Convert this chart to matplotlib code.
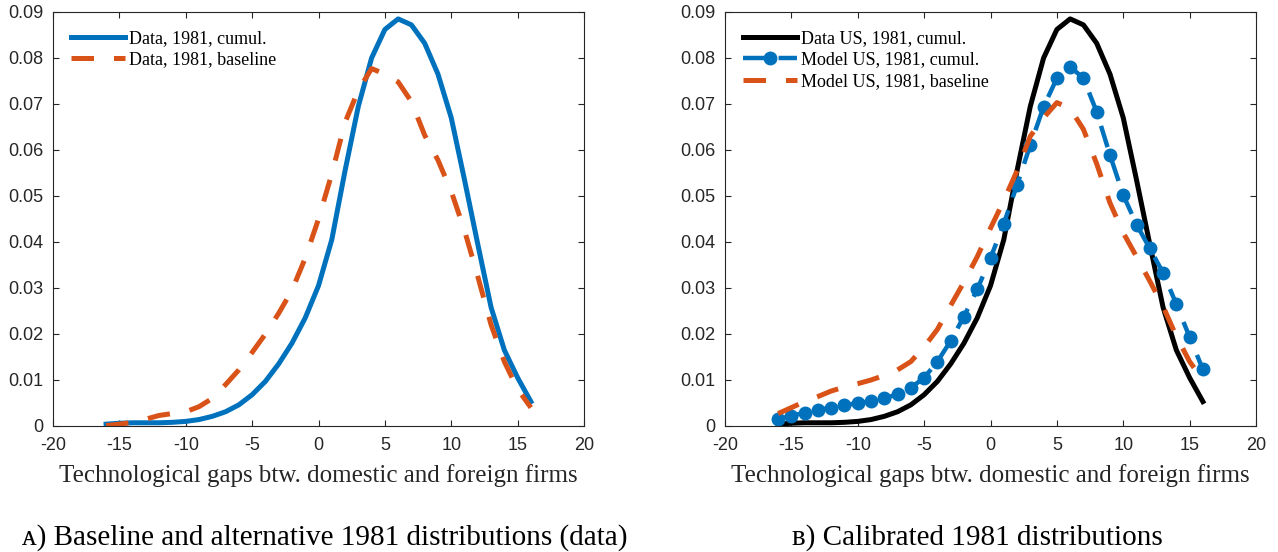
import matplotlib
matplotlib.use("Agg")
import matplotlib.pyplot as plt

# technological gap grid (x axis of both panels)
gaps = [-16, -15, -14, -13, -12, -11, -10, -9, -8, -7, -6, -5, -4, -3, -2, -1, 0,
        1, 2, 3, 4, 5, 6, 7, 8, 9, 10, 11, 12, 13, 14, 15, 16]

# data, 1981, cumulative (blue in panel A, black in panel B)
data_cumul = [0.0004, 0.0006, 0.0007, 0.0007, 0.0007, 0.0008, 0.0010, 0.0014,
              0.0021, 0.0031, 0.0046, 0.0068, 0.0097, 0.0135, 0.0180, 0.0235,
              0.0305, 0.0405, 0.0555, 0.0695, 0.0800, 0.0862, 0.0885, 0.0872,
              0.0832, 0.0765, 0.0670, 0.0535, 0.0395, 0.0258, 0.0165, 0.0105,
              0.0053]

# data, 1981, baseline (panel A, dashed orange)
data_baseline = [0.0001, 0.0004, 0.0008, 0.0015, 0.0023, 0.0027, 0.0031, 0.0042,
                 0.0060, 0.0090, 0.0122, 0.0160, 0.0200, 0.0245, 0.0295, 0.0365,
                 0.0450, 0.0548, 0.0660, 0.0730, 0.0777, 0.0765, 0.0748, 0.0705,
                 0.0632, 0.0578, 0.0510, 0.0425, 0.0325, 0.0220, 0.0140, 0.0080,
                 0.0040]

# model US, 1981, cumulative (panel B, blue dashed with markers)
model_cumul = [0.0015, 0.0022, 0.0029, 0.0035, 0.0040, 0.0046, 0.0049, 0.0054,
               0.0060, 0.0069, 0.0083, 0.0105, 0.0140, 0.0185, 0.0238, 0.0297,
               0.0365, 0.0440, 0.0524, 0.0611, 0.0694, 0.0756, 0.0781, 0.0756,
               0.0683, 0.0589, 0.0502, 0.0438, 0.0386, 0.0333, 0.0265, 0.0193,
               0.0123]

# model US, 1981, baseline (panel B, dashed orange)
model_baseline = [0.0027, 0.0040, 0.0053, 0.0064, 0.0076, 0.0085, 0.0092, 0.0100,
                  0.0110, 0.0122, 0.0140, 0.0172, 0.0210, 0.0262, 0.0313, 0.0368,
                  0.0430, 0.0490, 0.0555, 0.0630, 0.0670, 0.0703, 0.0690, 0.0645,
                  0.0570, 0.0485, 0.0420, 0.0368, 0.0315, 0.0260, 0.0195, 0.0140,
                  0.0100]

xticks = [-20, -15, -10, -5, 0, 5, 10, 15, 20]
yticks = [0, 0.01, 0.02, 0.03, 0.04, 0.05, 0.06, 0.07, 0.08, 0.09]
ytick_labels = ["0", "0.01", "0.02", "0.03", "0.04", "0.05", "0.06", "0.07", "0.08", "0.09"]
xlabel = "Technological gaps btw. domestic and foreign firms"

blue = "#0072BD"
orange = "#D95319"
axcol = "#262626"
serif = ["Liberation Serif", "DejaVu Serif", "DejaVu Sans"]

fig = plt.figure(figsize=(12.78, 5.52), dpi=100)
ax1 = fig.add_axes([53 / 1278, 126 / 552, 531 / 1278, 414 / 552])
ax2 = fig.add_axes([725 / 1278, 126 / 552, 531 / 1278, 414 / 552])


def style_axes(ax):
    ax.set_xlim(-20, 20)
    ax.set_ylim(0, 0.09)
    ax.set_xticks(xticks)
    ax.set_xticklabels([str(t) for t in xticks])
    ax.set_yticks(yticks)
    ax.set_yticklabels(ytick_labels)
    ax.tick_params(direction="in", length=4, width=0.8, top=True, right=True,
                   colors=axcol, labelsize=13)
    ax.tick_params(axis="x", pad=8)
    ax.tick_params(axis="y", pad=7)
    for lab in ax.get_xticklabels() + ax.get_yticklabels():
        lab.set_family("Liberation Sans")
    for sp in ax.spines.values():
        sp.set_color(axcol)
        sp.set_linewidth(0.8)
    ax.set_xlabel(xlabel, family=serif, fontsize=18, color=axcol, labelpad=7)


def add_legend(ax):
    ax.legend(loc="upper left", frameon=False, prop={"family": serif, "size": 13},
              handlelength=3.0, handletextpad=0.2, borderaxespad=0.6,
              labelspacing=0.25, numpoints=1)


# panel A
ax1.plot(gaps, data_cumul, color=blue, lw=3.6, label="Data, 1981, cumul.")
ax1.plot(gaps, data_baseline, color=orange, lw=3.6, dashes=(4.5, 4),
         label="Data, 1981, baseline")
style_axes(ax1)
add_legend(ax1)

# panel B
ax2.plot(gaps, data_cumul, color="black", lw=3.6, label="Data US, 1981, cumul.")
ax2.plot(gaps, model_cumul, color=blue, lw=3.2, dashes=(5, 3), marker="o",
         markersize=9, label="Model US, 1981, cumul.")
ax2.plot(gaps, model_baseline, color=orange, lw=3.6, dashes=(4.5, 4),
         label="Model US, 1981, baseline")
style_axes(ax2)
add_legend(ax2)

# sub-captions
fig.text(325 / 1278, 1 - 538 / 552, "ᴀ) Baseline and alternative 1981 distributions (data)",
         family=serif, fontsize=21, ha="center", va="center", color="black")
fig.text(977 / 1278, 1 - 538 / 552, "ʙ) Calibrated 1981 distributions",
         family=serif, fontsize=21, ha="center", va="center", color="black")

fig.savefig("out.png", dpi=100)
